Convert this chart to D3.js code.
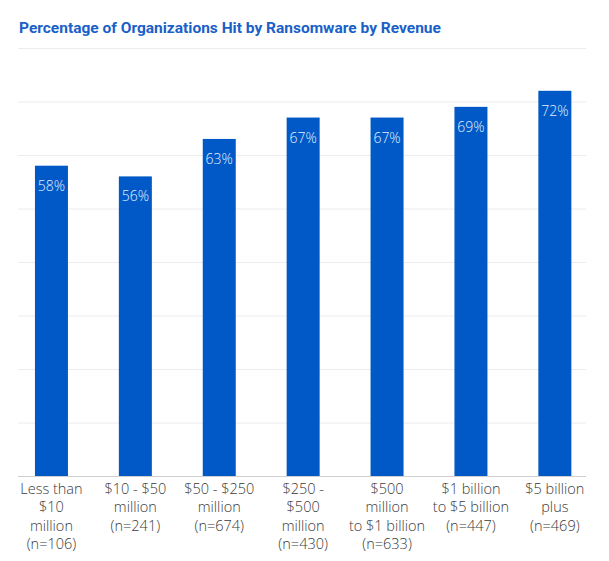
<!DOCTYPE html>
<html><head><meta charset="utf-8">
<script src="https://cdn.jsdelivr.net/npm/d3@7"></script>
<style>body{margin:0;background:#fff;} svg{display:block;}</style>
</head><body>
<svg id="c" width="609" height="561"></svg>
<script>
const categories = [
  ["Less than", "$10", "million", "(n=106)"],
  ["$10 - $50", "million", "(n=241)"],
  ["$50 - $250", "million", "(n=674)"],
  ["$250 -", "$500", "million", "(n=430)"],
  ["$500", "million", "to $1 billion", "(n=633)"],
  ["$1 billion", "to $5 billion", "(n=447)"],
  ["$5 billion", "plus", "(n=469)"]
];
const values = [58, 56, 63, 67, 67, 69, 72];
const yTicks = [0, 10, 20, 30, 40, 50, 60, 70, 80];
const title = "Percentage of Organizations Hit by Ransomware by Revenue";

(function() {
const svg = d3.select("#c");
const gridL = 18, gridR = 586, plotTop = 48, plotBottom = 476;
const x = d3.scaleBand().domain(d3.range(values.length)).range([9.5, 596.8]).padding(0);
const y = d3.scaleLinear().domain([0, 80]).range([plotBottom, plotTop]);
const barW = 33;

svg.append("text").attr("x", 19).attr("y", 33)
  .attr("font-family", "Roboto, sans-serif").attr("font-weight", 700)
  .attr("font-size", 15.5).attr("fill", "#1b5fc8").text(title);

svg.append("g").selectAll("line").data(yTicks.filter(d => d > 0)).join("line")
  .attr("x1", gridL).attr("x2", gridR)
  .attr("y1", d => y(d) + 0.5).attr("y2", d => y(d) + 0.5)
  .attr("stroke", "#ececec").attr("stroke-width", 1);

svg.append("g").selectAll("rect").data(values).join("rect")
  .attr("x", (d, i) => x(i) + x.bandwidth() / 2 - barW / 2)
  .attr("width", barW)
  .attr("y", d => y(d)).attr("height", d => plotBottom - y(d))
  .attr("fill", "#0059c6");

svg.append("g").selectAll("text").data(values).join("text")
  .attr("x", (d, i) => x(i) + x.bandwidth() / 2)
  .attr("y", d => y(d) + 25)
  .attr("text-anchor", "middle")
  .attr("font-family", "'Open Sans', sans-serif").attr("font-weight", 300)
  .attr("font-size", 14).attr("fill", "#e3eeff")
  .text(d => d + "%");

svg.append("line").attr("x1", gridL).attr("x2", gridR)
  .attr("y1", plotBottom + 0.5).attr("y2", plotBottom + 0.5)
  .attr("stroke", "#cfcfcf").attr("stroke-width", 1);

const lab = svg.append("g").selectAll("text").data(categories).join("text")
  .attr("text-anchor", "middle")
  .attr("font-family", "'Open Sans', sans-serif").attr("font-weight", 300)
  .attr("font-size", 14.5).attr("fill", "#3a3a3a");
lab.each(function(lines, i) {
  d3.select(this).selectAll("tspan").data(lines).join("tspan")
    .attr("x", x(i) + x.bandwidth() / 2)
    .attr("y", (d, j) => 494 + j * 18.3)
    .text(d => d);
});
})();
</script>
</body></html>
